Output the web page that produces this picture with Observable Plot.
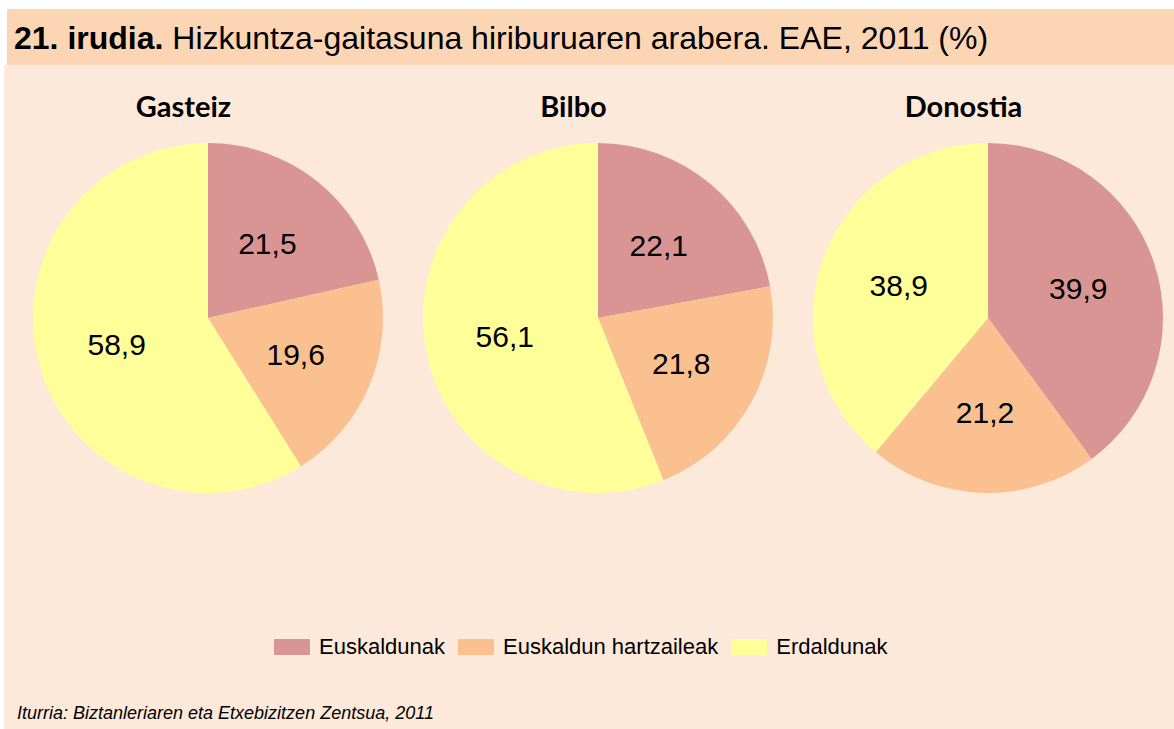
<!DOCTYPE html>
<html>
<head>
<meta charset="utf-8">
<script src="https://cdn.jsdelivr.net/npm/d3@7"></script>
<script src="https://cdn.jsdelivr.net/npm/@observablehq/plot@0.6"></script>
<style>
  html, body { margin: 0; padding: 0; background: #ffffff; }
  #wrap { position: relative; width: 1174px; height: 729px; overflow: hidden; background: #ffffff; font-family: "Liberation Sans", Arial, sans-serif; }
  #band { position: absolute; left: 7px; top: 9px; width: 1167px; height: 56px; background: #FCD5B4; }
  #title { position: absolute; left: 14px; top: 19px; font-size: 32px; line-height: 38px; color: #000; white-space: nowrap; }
  #panel { position: absolute; left: 4px; top: 65px; width: 1170px; height: 664px; background: #FDE9D9; }
  #chart { position: absolute; left: 0px; top: 65px; }
  #legend { position: absolute; left: 274px; top: 634px; display: flex; align-items: center; gap: 13px; font-size: 22px; white-space: nowrap; }
  .item { display: flex; align-items: center; }
  .sw { width: 36px; height: 16px; margin-right: 9px; }
  #caption { position: absolute; left: 17px; top: 703px; font-size: 18px; font-style: italic; white-space: nowrap; }
</style>
</head>
<body>
<div id="wrap">
  <div id="band"></div>
  <div id="title"><b>21. irudia.</b> Hizkuntza-gaitasuna hiriburuaren arabera. EAE, 2011 (%)</div>
  <div id="panel"></div>
  <div id="chart"></div>
  <div id="legend"></div>
  <div id="caption">Iturria: Biztanleriaren eta Etxebizitzen Zentsua, 2011</div>
</div>
<script>
const cities = ["Gasteiz", "Bilbo", "Donostia"];
const categories = ["Euskaldunak", "Euskaldun hartzaileak", "Erdaldunak"];
const euskaldunak = [21.5, 22.1, 39.9];
const hartzaileak = [19.6, 21.8, 21.2];
const erdaldunak = [58.9, 56.1, 38.9];
const colors = ["#D99594", "#FAC090", "#FFFF99"];

const series = [euskaldunak, hartzaileak, erdaldunak];
const table = [];
cities.forEach((city, i) => {
  categories.forEach((cat, j) => {
    table.push({city, category: cat, value: series[j][i]});
  });
});

const radius = 175;
const labelRadius = 95;
const centerY = 253;

function pieMark(data) {
  return (index, scales) => {
    const g = d3.create("svg:g");
    const arc = d3.arc().innerRadius(0).outerRadius(radius);
    const pie = d3.pie().sort(null).value(d => d.value);
    for (const city of cities) {
      const rows = data.filter(d => d.city === city);
      const arcs = pie(rows);
      const cx = scales.x(city);
      const gg = g.append("g").attr("transform", `translate(${cx},${centerY})`);
      gg.selectAll("path").data(arcs).join("path")
        .attr("d", arc)
        .attr("fill", d => scales.color(d.data.category));
      gg.selectAll("text").data(arcs).join("text")
        .attr("x", d => labelRadius * Math.sin((d.startAngle + d.endAngle) / 2))
        .attr("y", d => -labelRadius * Math.cos((d.startAngle + d.endAngle) / 2))
        .attr("text-anchor", "middle")
        .attr("dominant-baseline", "central")
        .attr("font-family", "'Liberation Sans', Arial, sans-serif")
        .attr("font-size", 30)
        .attr("fill", "#000")
        .text(d => d.data.value.toFixed(1).replace(".", ","));
    }
    return g.node();
  };
}

const plot = Plot.plot({
  width: 1174,
  height: 560,
  marginTop: 0, marginBottom: 0, marginLeft: 0, marginRight: 0,
  style: { background: "transparent", overflow: "visible" },
  x: { type: "point", domain: cities, range: [207, 988], padding: 0, axis: null },
  y: { axis: null },
  color: { domain: categories, range: colors },
  marks: [
    pieMark(table),
    Plot.text(cities, {
      x: d => d, frameAnchor: "top", dy: 31, dx: -25,
      text: d => d, fontSize: 29, fontWeight: 700,
      fontFamily: "Lato, 'Open Sans', sans-serif", fill: "#000"
    })
  ]
});
document.getElementById("chart").appendChild(plot);

const legend = document.getElementById("legend");
categories.forEach((c, i) => {
  const item = document.createElement("div");
  item.className = "item";
  const sw = document.createElement("div");
  sw.className = "sw";
  sw.style.background = colors[i];
  const lab = document.createElement("span");
  lab.textContent = c;
  item.appendChild(sw);
  item.appendChild(lab);
  legend.appendChild(item);
});
</script>
</body>
</html>
